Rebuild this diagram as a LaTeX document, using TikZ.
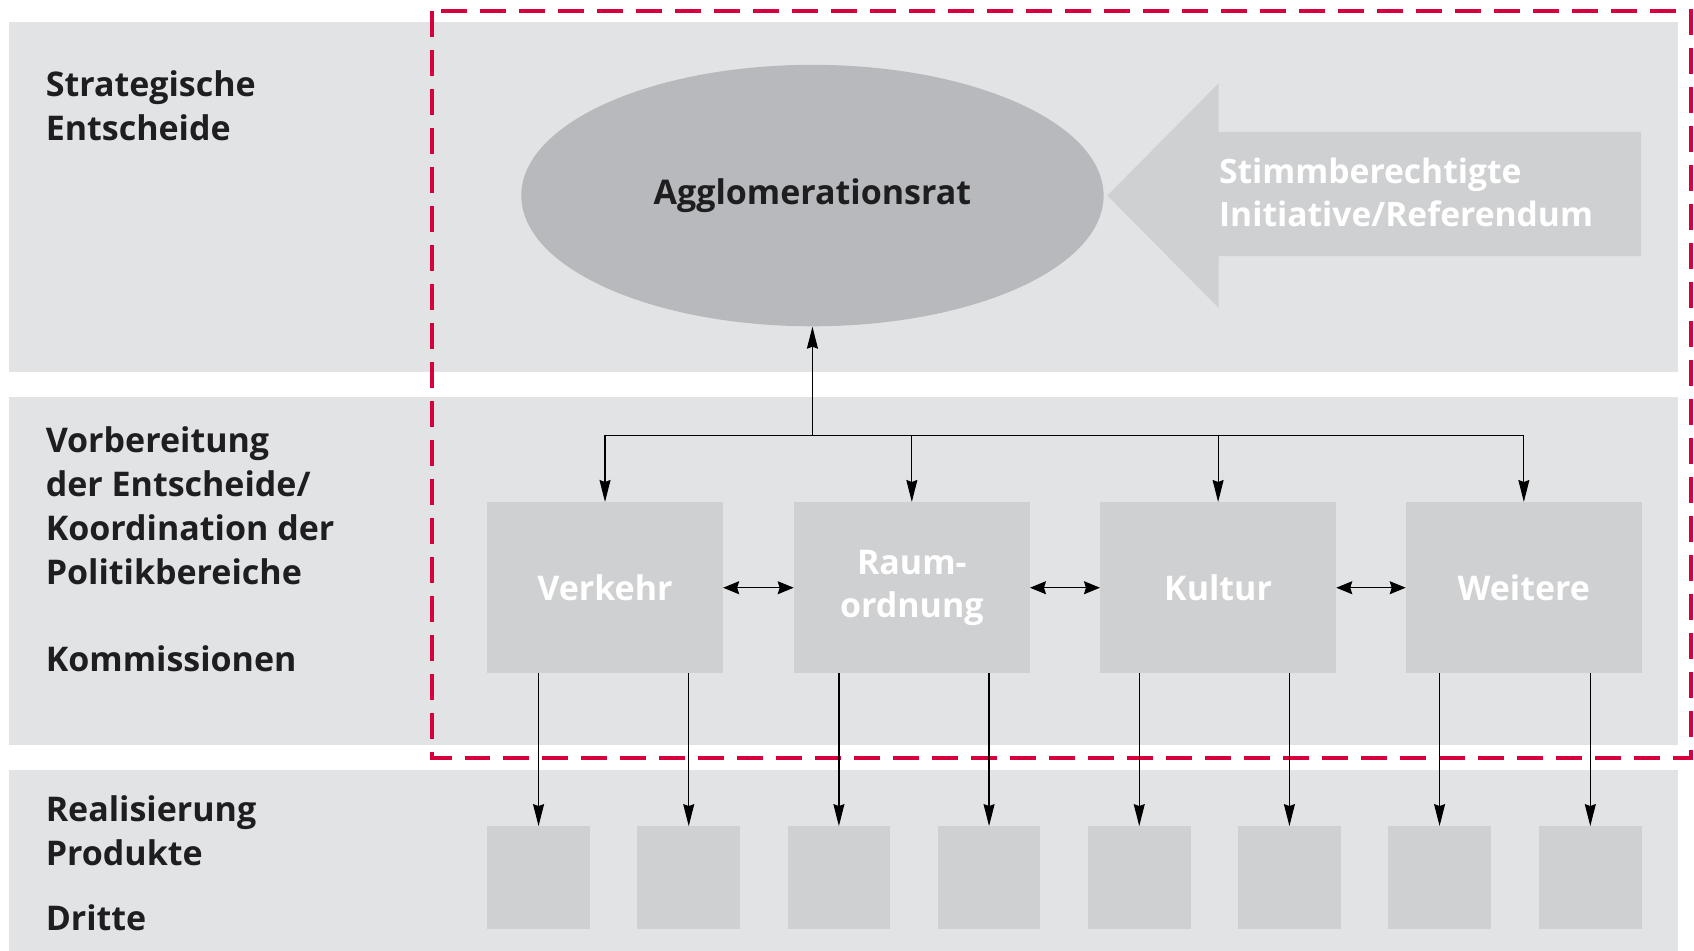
\documentclass[tikz,border=0pt]{standalone}
\usepackage{fontspec}
\setmainfont{Open Sans}
\usetikzlibrary{arrows.meta,shapes.geometric}
\definecolor{bandc}{HTML}{E2E3E5}
\definecolor{boxc}{HTML}{CFD0D2}
\definecolor{ellc}{HTML}{B8B9BC}
\definecolor{redc}{HTML}{D6003D}
\definecolor{txtc}{HTML}{1E1E20}
\def\pu{0.5402pt}
\begin{document}
\begin{tikzpicture}[x=0.5402pt,y=-0.5402pt,
  band/.style={fill=bandc},
  lab/.style={anchor=north west, inner sep=0pt, align=left, text=txtc, font=\fontsize{17}{21.9}\selectfont\bfseries},
  mbox/.style={fill=boxc, minimum width=218*\pu, minimum height=158*\pu, inner sep=0pt, text=white, align=center, font=\fontsize{17}{21.6}\selectfont\bfseries},
  sbox/.style={fill=boxc, minimum width=95*\pu, minimum height=95*\pu, inner sep=0pt},
  conn/.style={line width=0.6pt, draw=black},
  vtip/.style={conn, -{Stealth[length=11pt,width=5.5pt,inset=1pt]}},
  htip/.style={conn, {Stealth[length=8pt,width=6.5pt,inset=1pt]}-{Stealth[length=8pt,width=6.5pt,inset=1pt]}},
  frame/.style={draw=redc, line width=2pt, dash pattern=on 13pt off 6.5pt}
]
\useasboundingbox (0,0) rectangle (1568,880);
\fill[white] (0,0) rectangle (1568,880);
% bands
\fill[band] (8,20) rectangle (1553,344);
\fill[band] (8,367) rectangle (1553,690);
\fill[band] (8,713) rectangle (1553,880);
% red frame
\draw[frame] (400,10) rectangle (1565,702);
% left labels
\node[lab] (l1) at (42,65) {Strategische\\Entscheide};
\node[lab] (l2) at (42,395) {Vorbereitung\\der Entscheide/\\Koordination der\\Politikbereiche};
\node[lab] (l3) at (42,597) {Kommissionen};
\node[lab] (l4) at (42,736) {Realisierung\\Produkte};
\node[lab] (l5) at (42,837) {Dritte};
% ellipse
\node[ellipse, fill=ellc, minimum width=539*\pu, minimum height=242*\pu, inner sep=0pt, text=txtc, font=\fontsize{17}{21.6}\selectfont\bfseries] (rat) at (752,181) {Agglomerationsrat};
% big arrow
\fill[boxc] (1025,181) -- (1128,77) -- (1128,122) -- (1519,122) -- (1519,237) -- (1128,237) -- (1128,285) -- cycle;
\node[anchor=west, inner sep=0pt, align=left, text=white, font=\fontsize{16.8}{21.9}\selectfont\bfseries] (stimm) at (1128,178) {Stimmberechtigte\\Initiative/Referendum};
% commission boxes
\node[mbox] (verkehr) at (560,544) {Verkehr};
\node[mbox] (raum) at (844,544) {Raum-\\ordnung};
\node[mbox] (kultur) at (1127.5,544) {Kultur};
\node[mbox] (weitere) at (1410.5,544) {Weitere};
% product boxes
\foreach \i/\x in {1/498.5,2/637.5,3/776.5,4/915.5,5/1054.5,6/1193.5,7/1332.5,8/1472}
  \node[sbox] (s\i) at (\x,812.5) {};
% connectors
\coordinate (j) at (752,403);
\draw[vtip] (j) -- (rat.south);
\draw[conn] (verkehr.north |- j) -- (weitere.north |- j);
\foreach \b in {verkehr,raum,kultur,weitere}
  \draw[vtip] (\b.north |- j) -- (\b.north);
\draw[htip] (verkehr.east) -- (raum.west);
\draw[htip] (raum.east) -- (kultur.west);
\draw[htip] (kultur.east) -- (weitere.west);
\foreach \i/\b in {1/verkehr,2/verkehr,3/raum,4/raum,5/kultur,6/kultur,7/weitere,8/weitere}
  \draw[vtip] (s\i.north |- \b.south) -- (s\i.north);
\end{tikzpicture}
\end{document}
